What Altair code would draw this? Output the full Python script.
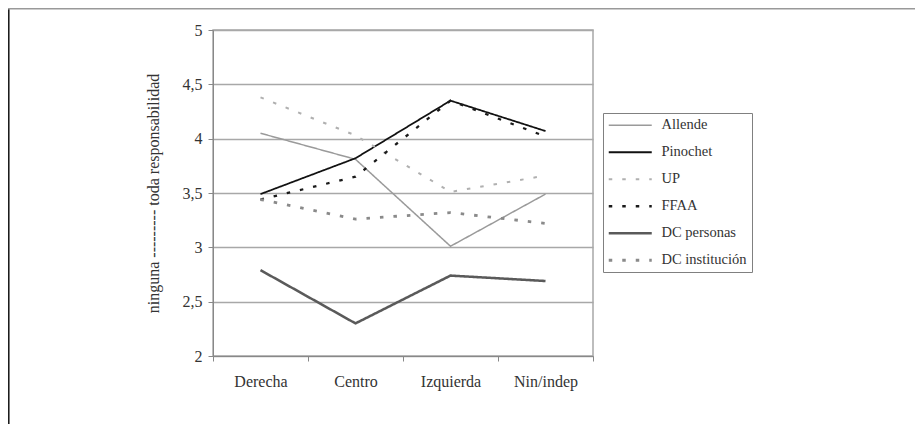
import altair as alt
import pandas as pd

categorias = ["Derecha", "Centro", "Izquierda", "Nin/indep"]
series = ["Allende", "Pinochet", "UP", "FFAA", "DC personas", "DC institución"]

allende = [4.05, 3.81, 3.01, 3.49]
pinochet = [3.49, 3.82, 4.35, 4.07]
up = [4.38, 4.03, 3.51, 3.66]
ffaa = [3.44, 3.65, 4.35, 4.02]
dc_personas = [2.79, 2.30, 2.74, 2.69]
dc_institucion = [3.44, 3.26, 3.32, 3.22]

valores = [allende, pinochet, up, ffaa, dc_personas, dc_institucion]

rows = []
for s, vals in zip(series, valores):
    for c, v in zip(categorias, vals):
        rows.append({"grupo": c, "serie": s, "valor": v})
df = pd.DataFrame(rows)

colores = ["#9a9a9a", "#111111", "#b0b0b0", "#1a1a1a", "#5a5a5a", "#8a8a8a"]
dashes = [[1, 0], [1, 0], [3.5, 10], [3.5, 10], [1, 0], [3.5, 10]]
anchos = [1.5, 2.8, 2.2, 3.2, 1.8, 2.8]

FONT = "Liberation Serif, Times New Roman, serif"

legend = alt.Legend(
    title=None,
    orient="none",
    legendX=390,
    legendY=83,
    symbolType="M-4.3,0H4.3",
    symbolSize=100,
    symbolOffset=15,
    labelOffset=24,
    rowPadding=12,
    padding=5,
    strokeColor="#808080",
    labelFont=FONT,
    labelFontSize=14.5,
    labelColor="#333333",
)

lines = alt.Chart(df).mark_line().encode(
    x=alt.X(
        "grupo:N",
        sort=categorias,
        scale=alt.Scale(paddingInner=0, paddingOuter=0),
        axis=alt.Axis(
            title=None,
            labelAngle=0,
            tickBand="extent",
            tickSize=5,
            tickColor="#888888",
            domainColor="#888888",
            labelPadding=12,
            labelFont=FONT,
            labelFontSize=16,
            labelColor="#333333",
            grid=False,
        ),
    ),
    y=alt.Y(
        "valor:Q",
        scale=alt.Scale(domain=[2, 5]),
        axis=alt.Axis(
            values=[2, 2.5, 3, 3.5, 4, 4.5, 5],
            labelExpr="replace(format(datum.value, '.1~f'), '.', ',')",
            title="ninguna --------- toda responsabilidad",
            titleFont=FONT,
            titleFontSize=16,
            titleFontWeight="normal",
            titleColor="#333333",
            titleAngle=-90,
            titleX=-60,
            titleY=163,
            titleAlign="center",
            titleBaseline="middle",
            tickSize=5,
            tickColor="#888888",
            domainColor="#888888",
            labelPadding=6,
            labelFont=FONT,
            labelFontSize=16,
            labelColor="#333333",
            gridColor="#a8a8a8",
            gridWidth=1.5,
        ),
    ),
    color=alt.Color("serie:N", scale=alt.Scale(domain=series, range=colores), legend=legend),
    strokeDash=alt.StrokeDash("serie:N", scale=alt.Scale(domain=series, range=dashes), legend=legend),
    strokeWidth=alt.StrokeWidth("serie:N", scale=alt.Scale(domain=series, range=anchos), legend=legend),
    detail="serie:N",
)

frame_df = pd.DataFrame({"a": [0]})
left_border = alt.Chart(frame_df).mark_rule(color="#111111", strokeWidth=1.5).encode(
    x=alt.value(-204.2), y=alt.value(-22), y2=alt.value(396)
)
top_border = alt.Chart(frame_df).mark_rule(color="#999999", strokeWidth=1.5).encode(
    x=alt.value(-205), x2=alt.value(702), y=alt.value(-21.2)
)

chart = (
    alt.layer(lines, left_border, top_border)
    .properties(
        width=380,
        height=326,
        autosize=alt.AutoSizeParams(type="none"),
        padding={"left": 205, "top": 22, "right": 322, "bottom": 68},
    )
    .configure_view(stroke="#a8a8a8", strokeWidth=1.5)
)

chart.save("out.html", embed_options={"renderer": "svg", "actions": False})
